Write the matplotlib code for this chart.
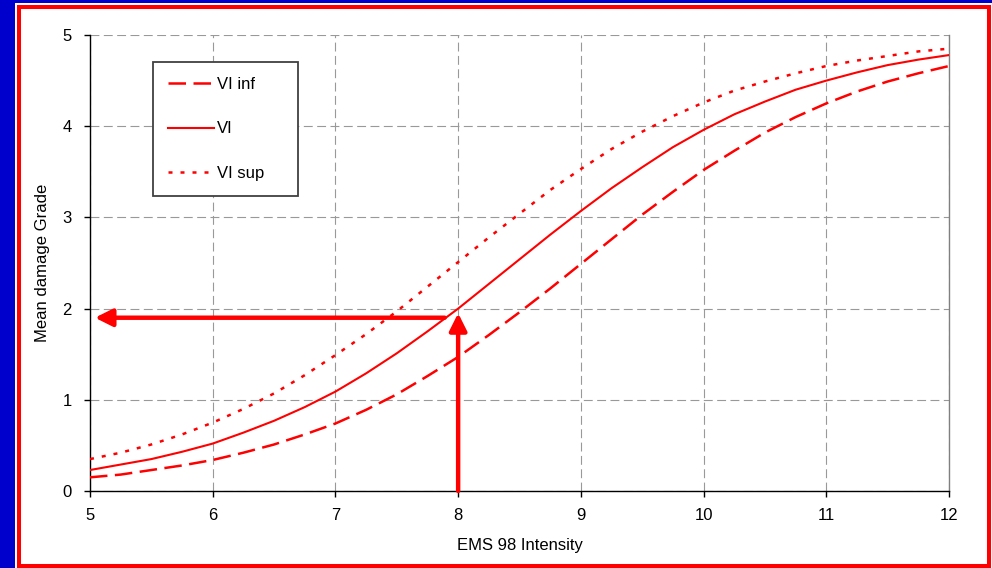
import matplotlib
matplotlib.use("Agg")
import matplotlib.pyplot as plt
from matplotlib.patches import Rectangle

plt.rcParams['font.family'] = ['Liberation Sans', 'DejaVu Sans']

# EMS-98 intensity and mean damage grade for the three vulnerability curves
intensity = [5.0, 5.25, 5.5, 5.75, 6.0, 6.25, 6.5, 6.75, 7.0, 7.25, 7.5, 7.75,
             8.0, 8.25, 8.5, 8.75, 9.0, 9.25, 9.5, 9.75, 10.0, 10.25, 10.5,
             10.75, 11.0, 11.25, 11.5, 11.75, 12.0]
vi_inf = [0.15, 0.18, 0.23, 0.28, 0.34, 0.42, 0.51, 0.62, 0.74, 0.89, 1.06, 1.26,
          1.47, 1.71, 1.96, 2.22, 2.49, 2.76, 3.03, 3.28, 3.52, 3.73, 3.93,
          4.10, 4.25, 4.38, 4.49, 4.58, 4.66]
vi = [0.23, 0.29, 0.35, 0.43, 0.52, 0.64, 0.77, 0.92, 1.09, 1.29, 1.51, 1.75,
      2.00, 2.27, 2.54, 2.81, 3.07, 3.32, 3.55, 3.77, 3.96, 4.13, 4.27,
      4.40, 4.50, 4.59, 4.67, 4.73, 4.78]
vi_sup = [0.35, 0.42, 0.51, 0.62, 0.75, 0.90, 1.07, 1.27, 1.49, 1.72, 1.97, 2.24,
          2.51, 2.78, 3.04, 3.30, 3.53, 3.75, 3.94, 4.11, 4.26, 4.39, 4.49,
          4.58, 4.66, 4.72, 4.77, 4.82, 4.85]
series_labels = ["VI inf", "VI", "VI sup"]

x_ticks = [5, 6, 7, 8, 9, 10, 11, 12]
y_ticks = [0, 1, 2, 3, 4, 5]

# reading of the curve: intensity 8 -> mean damage grade about 1.9
read_intensity = 8.0
read_tip_grade = 1.95
read_grade = 1.9
read_start_intensity = 7.89
read_end_intensity = 5.04

W, H = 992, 568
fig = plt.figure(figsize=(W / 100, H / 100), dpi=100)
fig.patch.set_facecolor('#0000cc')

# white slide panel with red frame
fig.add_artist(Rectangle((15 / W, 0), (W - 15) / W, (H - 3) / H,
                         transform=fig.transFigure, facecolor='white',
                         edgecolor='none', zorder=-3))
fig.add_artist(Rectangle((19 / W, 2.5 / H), 969.5 / W, 558.5 / H,
                         transform=fig.transFigure, facecolor='none',
                         edgecolor='#ff0000', linewidth=2.9, zorder=-2))

ax = fig.add_axes([90 / W, (H - 491) / H, (949 - 90) / W, 456 / H])
ax.set_facecolor('white')

red = '#ff0000'
ax.plot(intensity, vi_inf, color=red, lw=1.8, dashes=(7, 3),
        label=series_labels[0], zorder=3)
ax.plot(intensity, vi, color=red, lw=1.5, label=series_labels[1], zorder=3)
ax.plot(intensity, vi_sup, color=red, lw=1.8, dashes=(1.6, 3.2),
        label=series_labels[2], zorder=3)

# arrows reading the solid curve
ax.annotate('', xy=(read_intensity, read_tip_grade), xytext=(read_intensity, 0),
            arrowprops=dict(arrowstyle='-|>', color=red, lw=3.2,
                            mutation_scale=26, shrinkA=0, shrinkB=0),
            zorder=4)
ax.annotate('', xy=(read_end_intensity, read_grade),
            xytext=(read_start_intensity, read_grade),
            arrowprops=dict(arrowstyle='-|>', color=red, lw=3.2,
                            mutation_scale=26, shrinkA=0, shrinkB=0),
            zorder=4)

ax.set_xlim(5, 12)
ax.set_ylim(0, 5)
ax.set_xticks(x_ticks)
ax.set_yticks(y_ticks)
ax.grid(True, color='#999999', lw=0.8, linestyle=(0, (8, 4)), zorder=0)
ax.set_axisbelow(True)

for side in ('left', 'bottom'):
    ax.spines[side].set_color('black')
    ax.spines[side].set_linewidth(1.0)
ax.spines['top'].set_visible(False)
ax.spines['right'].set_color('#808080')
ax.spines['right'].set_linewidth(1.0)

ax.tick_params(axis='both', direction='out', length=4, width=1, color='black',
               labelsize=12, pad=8, labelcolor='black')
ax.tick_params(axis='y', pad=9)

ax.set_xlabel('EMS 98 Intensity', fontsize=12, labelpad=11)
ax.set_ylabel('Mean damage Grade', fontsize=12, labelpad=9)

leg = ax.legend(loc='upper left', bbox_to_anchor=(0.0733, 0.6491, 0.1688, 0.2917),
                mode='expand', borderaxespad=0, fontsize=12, frameon=True,
                fancybox=False, shadow=False, handlelength=2.75,
                handletextpad=0.2, labelspacing=1.77, borderpad=0.9)
leg.get_frame().set_edgecolor('#404040')
leg.get_frame().set_linewidth(1.3)
leg.get_frame().set_facecolor('white')
leg.get_frame().set_alpha(1)

fig.savefig('out.png', dpi=100, facecolor=fig.get_facecolor())
